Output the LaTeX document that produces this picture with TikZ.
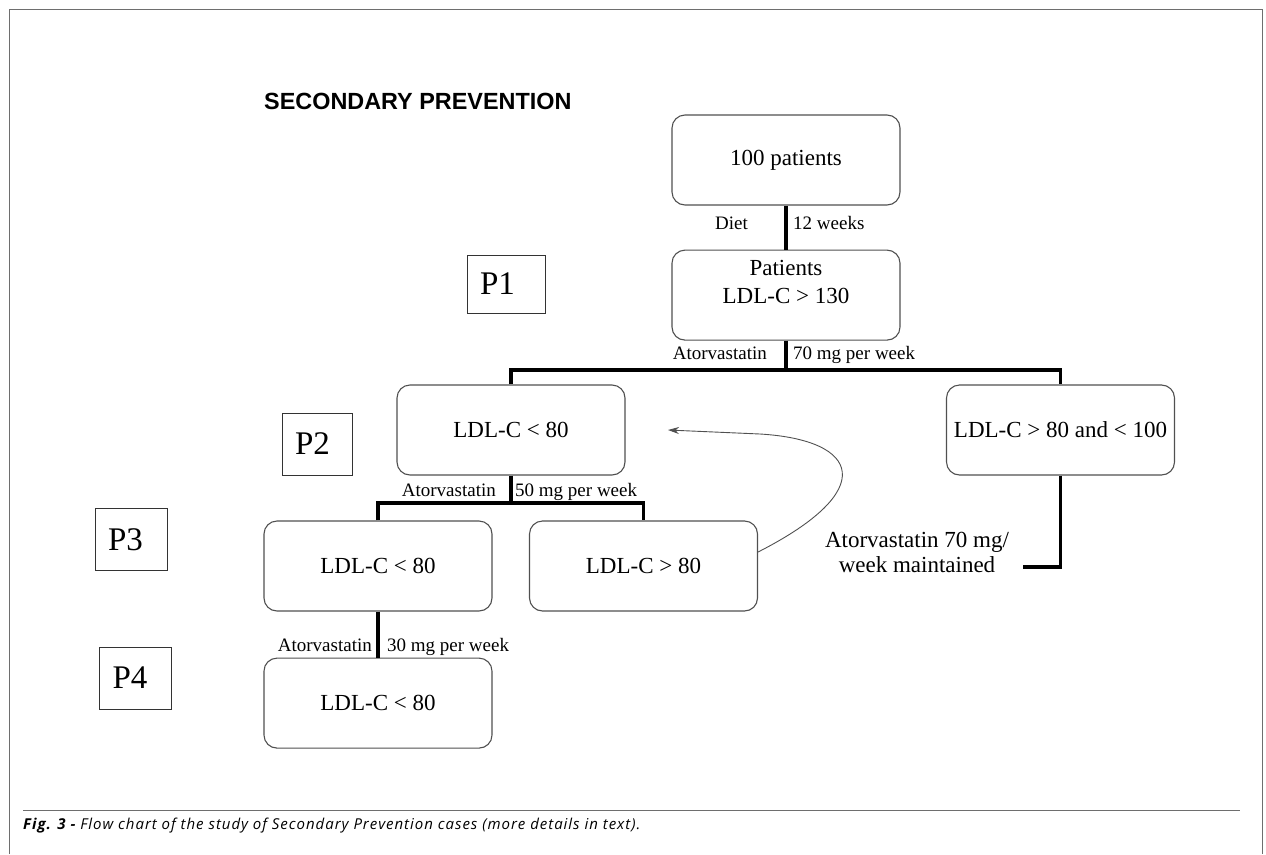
\documentclass[tikz,border=0pt]{standalone}
\usepackage{fontspec}
\setmainfont{Liberation Serif}
\newfontfamily\titlefont{Liberation Sans}
\newfontfamily\capfont[LetterSpace=6.5]{Open Sans}
\usetikzlibrary{arrows.meta,positioning}
\definecolor{framegray}{HTML}{6E6E6E}
\definecolor{boxgray}{HTML}{505050}
\tikzset{
	stagebox/.style={draw=boxgray, line width=1.1pt, rounded corners=13pt, minimum width=228pt, minimum height=90pt, align=center, inner sep=3pt, font=\fontsize{23}{28}\selectfont},
	phasebox/.style={draw=black!80, line width=1pt, inner xsep=13pt, text width=46pt, minimum height=62pt, align=left, font=\fontsize{33}{36}\selectfont},
	link/.style={line width=3.6pt},
	dose/.style={inner sep=0pt, font=\fontsize{19}{22}\selectfont},
}
\begin{document}
\begin{tikzpicture}[x=1pt, y=-1pt]
		\useasboundingbox (0,0) rectangle (1266,854);
		\draw [framegray, line width=1pt] (9,854) -- (9,9) -- (1262,9) -- (1262,854);
		\draw [framegray, line width=1pt] (23,810) -- (1240,810);
		\node (caption) [anchor=west, inner sep=0pt, font=\capfont\itshape\fontsize{15}{17}\selectfont] at (23,826) {\textbf{Fig. 3 -} Flow chart of the study of Secondary Prevention cases (more details in text).};
		\node (title) [anchor=west, inner sep=0pt, font=\titlefont\bfseries\fontsize{23.4}{27}\selectfont] at (264,101) {SECONDARY PREVENTION};

		\node (pts) [stagebox] at (786,160) {100 patients};
		\node (high) [stagebox, text depth=26pt, below=44pt of pts] {Patients\\LDL-C > 130};
		\node (lowA) [stagebox] at (511,430) {LDL-C < 80};
		\node (midB) [stagebox] at (1060.5,430) {LDL-C > 80 and < 100};
		\node (lowB) [stagebox] at (378,566) {LDL-C < 80};
		\node (highB) [stagebox] at (643.5,566) {LDL-C > 80};
		\node (lowC) [stagebox, below=46pt of lowB] {LDL-C < 80};

		\node (p1) [phasebox, text width=52pt, minimum height=58pt] at (506,284) {P1};
		\node (p2) [phasebox, text width=44pt] at (317,444) {P2};
		\node (p3) [phasebox] at (131,539.5) {P3};
		\node (p4) [phasebox] at (135.5,678) {P4};

		\coordinate (fork1) at (786,370);
		\coordinate (fork2) at (511,503);
		\coordinate (keepend) at (1023,567);
		\coordinate (backtip) at (668,430);

		\draw [link] (pts.south) -- (high.north);
		\draw [link] (high.south) -- (fork1);
		\draw [link] (lowA.north) |- (fork1) -| (midB.north);
		\draw [link] (lowA.south) -- (fork2);
		\draw [link] (lowB.north) |- (fork2) -| (highB.north);
		\draw [link] (lowB.south) -- (lowC.north);
		\draw [link] (midB.south) |- (keepend);
		\draw [boxgray, line width=0.9pt, -{Stealth[length=11pt,width=7pt]}] ([yshift=14pt]highB.east) .. controls (880,490) and (860,440) .. (760,434) -- (backtip);

		\node (diet) [dose, anchor=base east] at (748,229) {Diet};
		\node (weeks) [dose, anchor=base west] at (793,229) {12 weeks};
		\node (atorA) [dose, anchor=base east] at (767,359) {Atorvastatin};
		\node (doseA) [dose, anchor=base west] at (793,359) {70 mg per week};
		\node (atorB) [dose, anchor=base east] at (496,496) {Atorvastatin};
		\node (doseB) [dose, anchor=base west] at (515,496) {50 mg per week};
		\node (atorC) [dose, anchor=base east] at (372,651) {Atorvastatin};
		\node (doseC) [dose, anchor=base west] at (387,651) {30 mg per week};
		\node (keep) [align=center, inner sep=0pt, font=\fontsize{23}{25}\selectfont] at (917,552) {Atorvastatin 70 mg/\\week maintained};
	\end{tikzpicture}
\end{document}
